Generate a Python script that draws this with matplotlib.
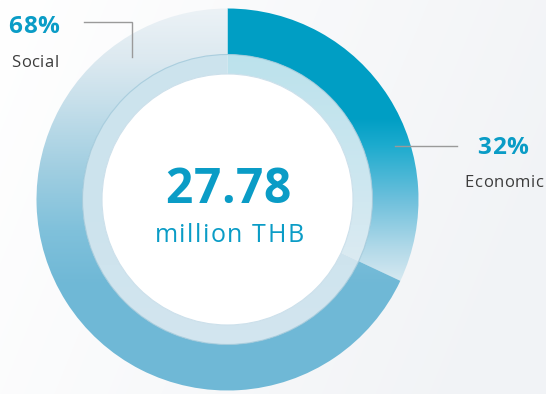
import numpy as np
import matplotlib
matplotlib.use("Agg")
import matplotlib.pyplot as plt
from matplotlib.patches import Circle
from matplotlib.font_manager import FontProperties, findfont, get_font

# ---- data ----
categories = ["Economic", "Social"]
shares = [32, 68]
share_labels = ["32%", "68%"]
total_value = "27.78"
total_unit = "million THB"

W, H = 546, 394
fig = plt.figure(figsize=(W / 100, H / 100), dpi=100)
ax = fig.add_axes([0, 0, 1, 1])

CX, CY = 227.5, H - 199.5
R_OUT, R_MID, R_IN = 191, 145, 125.5


def vgrad(stops_y, stops_c):
    ys = np.arange(H) + 0.5
    cols = np.array(stops_c, dtype=float) / 255.0
    img = np.zeros((H, W, 3))
    for k in range(3):
        col = np.interp(ys, stops_y, cols[:, k])
        img[:, :, k] = col[:, None]
    return img


# background
xx, yy = np.meshgrid(np.arange(W) / W, np.arange(H) / H)
t = np.clip(xx * 0.85 + yy * 0.25, 0, 1)[..., None]
bg = (1 - t) * np.array([1.0, 1.0, 1.0]) + t * np.array([241, 243, 246]) / 255
ax.imshow(bg, extent=(0, W, 0, H), origin="upper", zorder=0, interpolation="bilinear")

# outer ring
wedges, _ = ax.pie(shares, startangle=90, counterclock=False, radius=R_OUT,
                   center=(CX, CY), wedgeprops=dict(width=R_OUT - R_MID, linewidth=0))
grads_outer = [
    vgrad([0, 118, 145, 200, 250, 290],
          [(0, 158, 196), (0, 158, 196), (28, 171, 206), (110, 192, 220),
           (180, 218, 233), (224, 237, 243)]),
    vgrad([9, 60, 100, 170, 230, 285],
          [(236, 242, 246), (220, 233, 240), (200, 224, 235), (160, 206, 225),
           (128, 193, 219), (111, 184, 214)]),
]
for w, g in zip(wedges, grads_outer):
    w.set_facecolor("none")
    im = ax.imshow(g, extent=(0, W, 0, H), origin="upper", zorder=2, interpolation="bilinear")
    im.set_clip_path(w)

# inner light ring
wedges2, _ = ax.pie(shares, startangle=90, counterclock=False, radius=R_MID,
                    center=(CX, CY), wedgeprops=dict(width=R_MID - R_IN, linewidth=0))
grads_inner = [
    vgrad([55, 180, 270], [(188, 226, 236), (205, 231, 240), (221, 235, 242)]),
    vgrad([55, 200, 330], [(204, 227, 237), (204, 227, 237), (210, 229, 239)]),
]
for w, g in zip(wedges2, grads_inner):
    w.set_facecolor("none")
    im = ax.imshow(g, extent=(0, W, 0, H), origin="upper", zorder=3, interpolation="bilinear")
    im.set_clip_path(w)

ax.add_patch(Circle((CX, CY), R_MID, facecolor="none", edgecolor=(0.62, 0.78, 0.85),
                    linewidth=0.8, alpha=0.8, zorder=4))
ax.add_patch(Circle((CX, CY), R_IN, facecolor="white", edgecolor=(0.80, 0.88, 0.92),
                    linewidth=0.8, zorder=5))

ax.set_xlim(0, W)
ax.set_ylim(0, H)
ax.set_aspect("equal")
ax.axis("off")

BLUE = "#0a9cc6"
GREY = "#3c3c3c"
FONT = ["Open Sans", "DejaVu Sans"]


def tracked(xc, yb, s, size, spacing, weight="normal", color="k"):
    fp = FontProperties(family=FONT, size=size, weight=weight)
    font = get_font(findfont(fp))
    font.set_size(size, 100)
    adv = [font.load_char(ord(c)).linearHoriAdvance / 65536.0 for c in s]
    total = sum(adv) + spacing * (len(s) - 1)
    x = xc - total / 2
    for c, a in zip(s, adv):
        ax.text(x, yb, c, ha="left", va="baseline", fontproperties=fp,
                color=color, zorder=6)
        x += a + spacing


# center texts
tracked(228, H - 203, total_value, 34.5, 0.5, weight="bold", color=BLUE)
tracked(229, H - 242, total_unit, 18, 1.5, color=BLUE)

# labels
tracked(34, H - 33, share_labels[1], 17.5, 0.8, weight="bold", color=BLUE)
tracked(35, H - 67, categories[1], 12, 0.5, color=GREY)
tracked(502.5, H - 154, share_labels[0], 17.5, 0.8, weight="bold", color=BLUE)
tracked(504, H - 187, categories[0], 12, 0.5, color=GREY)

# leader lines
LC = "#9a9a9a"
ax.plot([84, 132, 132], [H - 22, H - 22, H - 57], color=LC, lw=1, zorder=6,
        solid_joinstyle="miter")
ax.plot([395, 457], [H - 146, H - 146], color=LC, lw=1, zorder=6)

fig.savefig("out.png", dpi=100)
